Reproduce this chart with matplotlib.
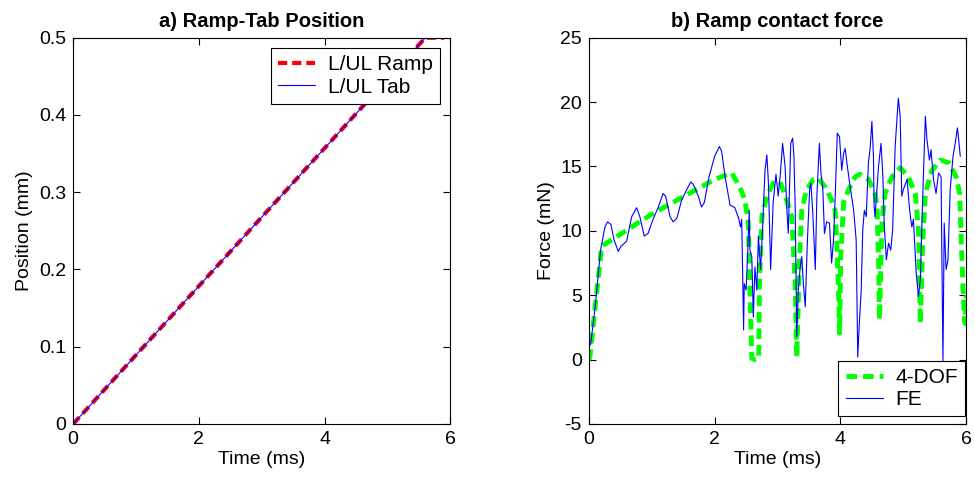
import numpy as np
import matplotlib.pyplot as plt

plt.rcParams['font.family'] = ['Liberation Sans', 'DejaVu Sans']
plt.rcParams['font.size'] = 14
plt.rcParams['axes.unicode_minus'] = False

# a) ramp-tab position
t_ramp = [0.0, 5.6, 5.9]
pos_ramp = [0.0, 0.5, 0.5]
t_tab = [0.0, 5.6, 5.9]
pos_tab = [0.0, 0.5, 0.5]

# b) ramp contact force, 4-DOF model
t_dof = [0.0, 0.016, 0.095, 0.175, 0.2, 1.0, 2.0, 2.27, 2.40, 2.48, 2.535, 2.56, 2.59,
         2.64, 2.70, 2.71, 2.75, 2.83, 2.93, 3.04, 3.145, 3.225, 3.28, 3.305, 3.35,
         3.385, 3.46, 3.57, 3.65, 3.755, 3.86, 3.915, 3.94, 3.97, 3.985, 4.005, 4.05,
         4.13, 4.235, 4.31, 4.445, 4.55, 4.58, 4.605, 4.62, 4.66, 4.71, 4.82, 4.95,
         5.08, 5.19, 5.24, 5.27, 5.31, 5.35, 5.455, 5.59, 5.72, 5.84, 5.895, 5.93,
         5.97, 5.985, 6.0]
f_dof = [0.0, 0.2, 3.9, 7.5, 8.8, 11.3, 14.0, 14.5, 13.4, 12.4, 10.6, 5.4, 0.1,
         0.0, 0.1, 5.4, 11.1, 12.7, 13.7, 13.8, 12.4, 11.1, 5.9, 0.2, 8.0,
         11.6, 13.2, 14.0, 14.1, 13.4, 12.4, 11.6, 9.3, 5.4, 2.05, 8.0, 12.2,
         13.2, 14.2, 14.4, 14.0, 12.9, 12.0, 8.0, 3.1, 10.6, 12.9, 14.2, 14.9,
         14.2, 12.9, 10.1, 2.8, 9.3, 12.9, 14.7, 15.5, 15.3, 14.2, 12.9, 8.0,
         3.1, 2.8, 5.0]

# b) ramp contact force, FE model
t_fe = [0.027, 0.095, 0.186, 0.255, 0.297, 0.35, 0.40, 0.467, 0.51, 0.60, 0.68, 0.76,
        0.81, 0.88, 0.94, 1.02, 1.10, 1.18, 1.22, 1.29, 1.34, 1.40, 1.475, 1.555,
        1.62, 1.66, 1.74, 1.79, 1.835, 1.91, 2.0, 2.075, 2.11, 2.165, 2.245, 2.32,
        2.38, 2.41, 2.43, 2.46, 2.47, 2.50, 2.525, 2.55, 2.56, 2.59, 2.615, 2.64,
        2.67, 2.695, 2.73, 2.765, 2.80, 2.83, 2.855, 2.89, 2.93, 2.975, 3.01, 3.04,
        3.08, 3.12, 3.145, 3.17, 3.21, 3.24, 3.26, 3.28, 3.305, 3.33, 3.36, 3.385,
        3.41, 3.44, 3.475, 3.51, 3.53, 3.56, 3.60, 3.625, 3.665, 3.69, 3.72, 3.745,
        3.78, 3.825, 3.86, 3.89, 3.915, 3.95, 3.985, 4.02, 4.05, 4.075, 4.11, 4.155,
        4.21, 4.25, 4.275, 4.30, 4.33, 4.355, 4.38, 4.41, 4.445, 4.47, 4.50, 4.525,
        4.535, 4.55, 4.58, 4.605, 4.645, 4.675, 4.695, 4.73, 4.765, 4.80, 4.83, 4.87,
        4.92, 4.95, 4.975, 5.0, 5.06, 5.1, 5.135, 5.16, 5.205, 5.24, 5.27, 5.31,
        5.35, 5.375, 5.415, 5.44, 5.48, 5.52, 5.56, 5.60, 5.63, 5.65, 5.68, 5.71,
        5.745, 5.79, 5.825, 5.86, 5.88, 5.905]
f_fe = [1.15, 3.9, 8.5, 10.3, 10.7, 10.5, 9.3, 8.4, 8.8, 9.2, 11.1, 11.8,
        11.1, 9.6, 9.8, 10.9, 11.8, 12.9, 12.7, 11.1, 10.7, 11.0, 12.4, 13.2,
        13.8, 13.6, 12.7, 11.85, 12.2, 14.2, 15.8, 16.55, 16.2, 14.2, 12.0, 11.8,
        11.0, 10.3, 10.9, 2.3, 5.9, 5.4, 8.3, 11.6, 8.5, 8.0, 3.3, 7.2,
        5.4, 9.6, 7.0, 10.6, 14.7, 15.9, 13.7, 7.0, 12.2, 14.4, 12.7, 14.2,
        16.8, 15.0, 11.9, 9.8, 16.8, 17.2, 15.8, 11.9, 1.8, 5.4, 7.2, 8.0,
        5.9, 4.1, 9.3, 13.2, 13.7, 11.4, 7.0, 12.7, 16.8, 14.5, 13.2, 9.8,
        10.7, 10.6, 7.5, 9.3, 12.4, 17.6, 17.3, 14.7, 16.0, 16.4, 15.0, 13.4,
        11.6, 9.3, 0.2, 2.8, 5.4, 10.1, 11.6, 11.1, 15.3, 16.3, 18.5, 15.8,
        11.9, 11.1, 13.2, 15.0, 16.8, 14.2, 10.6, 7.75, 9.05, 8.5, 10.1, 16.55,
        20.3, 18.9, 12.7, 13.2, 14.0, 11.6, 10.3, 10.9, 6.7, 4.9, 6.2, 12.9,
        18.9, 17.1, 15.5, 16.3, 14.0, 12.9, 14.5, 14.2, -0.1, 10.6, 7.0, 7.75,
        13.2, 15.8, 16.8, 18.0, 17.1, 15.8]

fig = plt.figure(figsize=(9.75, 4.84), dpi=100)
ax1 = fig.add_axes([0.075, 0.124, 0.387, 0.798])
ax2 = fig.add_axes([0.604, 0.124, 0.387, 0.798])

legend_kw = dict(fancybox=False, edgecolor='black', framealpha=1, fontsize=15,
                 handlelength=1.8, handletextpad=0.6,
                 borderpad=0.35, labelspacing=0.15)

ax1.plot(t_ramp, pos_ramp, color='red', lw=3, ls=(0, (2.2, 1.2)), label='L/UL Ramp')
ax1.plot(t_tab, pos_tab, color='blue', lw=0.8, label='L/UL Tab')
ax1.set_xlim(0, 6)
ax1.set_ylim(0, 0.5)
ax1.set_xticks([0, 2, 4, 6])
ax1.set_yticks([0, 0.1, 0.2, 0.3, 0.4, 0.5])
ax1.set_yticklabels(['0', '0.1', '0.2', '0.3', '0.4', '0.5'])
ax1.set_title('a) Ramp-Tab Position', fontweight='bold', fontsize=14.5, pad=8)
ax1.set_xlabel('Time (ms)', labelpad=2)
ax1.set_ylabel('Position (mm)', labelpad=4)
leg1 = ax1.legend(loc='upper right', borderaxespad=0.5, **legend_kw)
leg1.get_frame().set_linewidth(0.8)

ax2.plot(t_dof, f_dof, color='#00ff00', lw=3.5, ls=(0, (2.2, 1.2)), label='4-DOF')
ax2.plot(t_fe, f_fe, color='blue', lw=0.8, label='FE')
ax2.set_xlim(0, 6)
ax2.set_ylim(-5, 25)
ax2.set_xticks([0, 2, 4, 6])
ax2.set_yticks([-5, 0, 5, 10, 15, 20, 25])
ax2.set_title('b) Ramp contact force', fontweight='bold', fontsize=14.5, pad=8)
ax2.set_xlabel('Time (ms)', labelpad=2)
ax2.set_ylabel('Force (mN)', labelpad=4)
leg2 = ax2.legend(loc='lower right', bbox_to_anchor=(0.998, 0.02),
                  borderaxespad=0, **legend_kw)
leg2.get_frame().set_linewidth(0.8)

for ax in (ax1, ax2):
    ax.tick_params(direction='in', top=True, right=True, length=5, width=0.8, pad=5)
    for s in ax.spines.values():
        s.set_linewidth(0.8)

fig.savefig('out.png', dpi=100)
